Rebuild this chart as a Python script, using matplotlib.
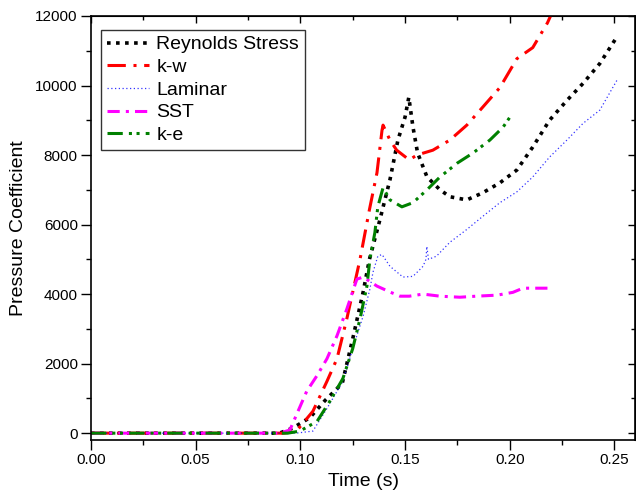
import numpy as np
import matplotlib
matplotlib.use('Agg')
import matplotlib.pyplot as plt
from matplotlib.ticker import MultipleLocator, FormatStrFormatter

plt.rcParams['font.family'] = ['Liberation Sans', 'DejaVu Sans']

# Reynolds Stress
rs_t = [0.0, 0.09, 0.0965, 0.1046, 0.1118, 0.120, 0.125, 0.130, 0.133, 0.138, 0.1428,
        0.1466, 0.150, 0.1518, 0.1538, 0.156, 0.1605, 0.1667, 0.1714, 0.1795, 0.187,
        0.1953, 0.2034, 0.211, 0.219, 0.2273, 0.235, 0.243, 0.2512]
rs_p = [0, 0, 150, 450, 940, 1430, 2710, 4060, 5000, 6140, 7290,
        8430, 9090, 9660, 8800, 8060, 7370, 7000, 6800, 6710, 6910,
        7200, 7570, 8230, 9000, 9570, 10060, 10630, 11400]

# k-w
kw_t = [0.0, 0.092, 0.098, 0.106, 0.1127, 0.1175, 0.1222, 0.1285, 0.133, 0.1366, 0.139,
        0.1395, 0.1428, 0.146, 0.152, 0.1557, 0.1633, 0.1714, 0.1795, 0.187, 0.1953,
        0.2034, 0.211, 0.218, 0.2195]
kw_p = [0, 0, 50, 630, 1490, 2140, 3290, 5000, 6430, 7490, 8710,
        8860, 8430, 8140, 7860, 8000, 8140, 8430, 8860, 9370, 9940,
        10770, 11090, 11800, 12000]

# Laminar
lam_t = [0.0, 0.098, 0.106, 0.1127, 0.1203, 0.125, 0.130, 0.1332, 0.1347, 0.137, 0.139,
         0.1428, 0.149, 0.1538, 0.1586, 0.1600, 0.1604, 0.1612, 0.165, 0.1714, 0.1795,
         0.187, 0.1953, 0.2034, 0.211, 0.219, 0.2273, 0.235, 0.243, 0.2512]
lam_p = [0, 0, 60, 710, 1490, 2430, 3370, 4140, 4630, 5090, 5140,
         4800, 4490, 4510, 4800, 5000, 5370, 5000, 5090, 5490, 5860,
         6230, 6630, 6940, 7370, 7940, 8430, 8910, 9290, 10150]

# SST
sst_t = [0.0, 0.09, 0.095, 0.103, 0.108, 0.1127, 0.1175, 0.1222, 0.127, 0.130, 0.1366,
         0.1428, 0.1476, 0.152, 0.1586, 0.1667, 0.1762, 0.184, 0.194, 0.2015, 0.2063, 0.219]
sst_p = [0, 0, 90, 1200, 1660, 2140, 2800, 3570, 4430, 4490, 4230,
         4060, 3940, 3940, 4000, 3940, 3910, 3940, 3970, 4050, 4170, 4170]

# k-e
ke_t = [0.0, 0.094, 0.0998, 0.108, 0.114, 0.1203, 0.125, 0.1285, 0.1318, 0.1332, 0.1356,
        0.137, 0.1395, 0.1428, 0.1485, 0.1538, 0.1605, 0.1667, 0.175, 0.1825, 0.1905,
        0.1968, 0.201]
ke_p = [0, 0, 60, 340, 910, 1570, 2430, 3290, 4230, 5000, 5770,
        6510, 7060, 6710, 6510, 6630, 7000, 7370, 7770, 8060, 8430,
        8800, 9170]

fig = plt.figure(figsize=(6.36, 4.99), dpi=100)
ax = fig.add_axes([0.143, 0.118, 0.856, 0.85])

ax.plot(rs_t, rs_p, color='black', lw=2.6, linestyle=(0, (1, 1.5)), label='Reynolds Stress')
ax.plot(kw_t, kw_p, color='red', lw=2.2, linestyle=(0, (6, 2.5, 1, 2.5)), label='k-w')
ax.plot(lam_t, lam_p, color='blue', lw=0.9, linestyle=(0, (1, 2)), alpha=0.8, label='Laminar')
ax.plot(sst_t, sst_p, color='magenta', lw=2.2, linestyle=(0, (4, 2, 1, 2)), label='SST')
ax.plot(ke_t, ke_p, color='green', lw=2.2, linestyle=(0, (5, 2, 1, 1.5, 1, 2)), label='k-e')

ax.set_xlim(0, 0.26)
ax.set_ylim(-200, 12000)
ax.xaxis.set_major_locator(MultipleLocator(0.05))
ax.xaxis.set_minor_locator(MultipleLocator(0.025))
ax.yaxis.set_major_locator(MultipleLocator(2000))
ax.yaxis.set_minor_locator(MultipleLocator(1000))
ax.xaxis.set_major_formatter(FormatStrFormatter('%.2f'))
ax.tick_params(which='both', direction='out', labelsize=11, pad=2.5)
ax.tick_params(which='major', length=7, width=1)
ax.tick_params(which='minor', length=3.5, width=1)

# inward ticks on top and right
top = ax.secondary_xaxis('top')
top.xaxis.set_major_locator(MultipleLocator(0.05))
top.xaxis.set_minor_locator(MultipleLocator(0.025))
top.tick_params(which='both', direction='in', labeltop=False)
top.tick_params(which='major', length=5, width=1)
top.tick_params(which='minor', length=3, width=1)
right = ax.secondary_yaxis('right')
right.yaxis.set_major_locator(MultipleLocator(2000))
right.yaxis.set_minor_locator(MultipleLocator(1000))
right.tick_params(which='both', direction='in', labelright=False)
right.tick_params(which='major', length=5, width=1)
right.tick_params(which='minor', length=3, width=1)

for s in ax.spines.values():
    s.set_linewidth(1.2)

ax.set_xlabel('Time (s)', fontsize=14, labelpad=4)
ax.set_ylabel('Pressure Coefficient', fontsize=14, labelpad=6)

leg = ax.legend(loc='upper left', bbox_to_anchor=(0.018, 0.967), borderaxespad=0,
                fontsize=14, frameon=True, fancybox=False, edgecolor='black',
                handlelength=2.2, handletextpad=0.35, labelspacing=0.26, borderpad=0.3)
leg.get_frame().set_linewidth(1)

fig.savefig('out.png', dpi=100)
